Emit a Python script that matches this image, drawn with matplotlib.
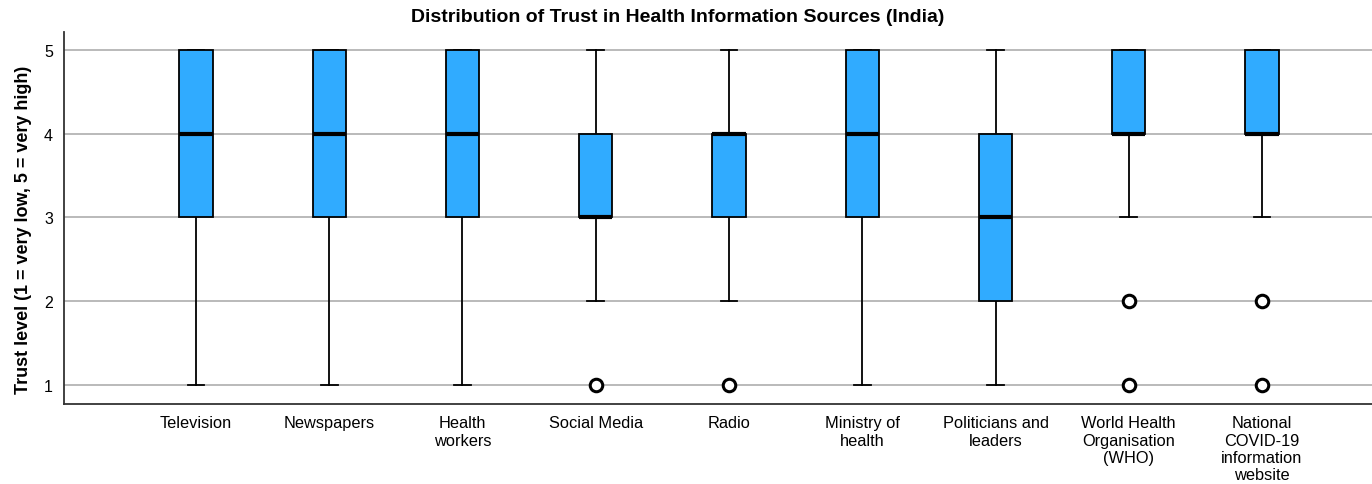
import matplotlib
matplotlib.use("Agg")
import matplotlib.pyplot as plt

plt.rcParams['font.family'] = ['Liberation Sans', 'DejaVu Sans']

categories = ["Television", "Newspapers", "Health\nworkers", "Social Media", "Radio",
              "Ministry of\nhealth", "Politicians and\nleaders",
              "World Health\nOrganisation\n(WHO)", "National\nCOVID-19\ninformation\nwebsite"]
whisker_low = [1, 1, 1, 2, 2, 1, 1, 3, 3]
q1 = [3, 3, 3, 3, 3, 3, 2, 4, 4]
median = [4, 4, 4, 3, 4, 4, 3, 4, 4]
q3 = [5, 5, 5, 4, 4, 5, 4, 5, 5]
whisker_high = [5, 5, 5, 5, 5, 5, 5, 5, 5]
outliers = [[], [], [], [1], [1], [], [], [2, 1], [2, 1]]
yticks = [1, 2, 3, 4, 5]

stats = []
for i, c in enumerate(categories):
    stats.append(dict(label=c, whislo=whisker_low[i], q1=q1[i], med=median[i],
                      q3=q3[i], whishi=whisker_high[i], fliers=outliers[i]))

fig = plt.figure(figsize=(13.72, 4.85), dpi=100)
ax = fig.add_axes([64/1372, 1-405/485, 1-64/1372, (405-33)/485])

positions = list(range(1, len(categories) + 1))
bp = ax.bxp(stats, positions=positions, widths=0.25, patch_artist=True,
            showfliers=True,
            boxprops=dict(facecolor="#30abff", edgecolor="black", linewidth=1.3),
            medianprops=dict(color="black", linewidth=3, solid_capstyle="butt"),
            whiskerprops=dict(color="black", linewidth=1.3),
            capprops=dict(color="black", linewidth=1.3),
            capwidths=0.125,
            flierprops=dict(marker="o", markerfacecolor="white", markeredgecolor="black",
                            markersize=9, markeredgewidth=2.2, linestyle="none"))
for p in bp["boxes"]:
    p.set_zorder(3)
for m in bp["medians"]:
    m.set_zorder(4)

ax.set_xlim(0.01, 9.825)
ax.set_ylim(0.773, 5.215)
ax.set_yticks(yticks)
ax.yaxis.grid(True, color="#b4b4b4", linewidth=1.3)
ax.set_axisbelow(True)
ax.tick_params(axis="y", length=0, labelsize=11.5, pad=8)
ax.tick_params(axis="x", length=0, labelsize=11.8, pad=8)
ax.set_xticks(positions)
ax.set_xticklabels(categories, linespacing=1.2)
for s in ["top", "right"]:
    ax.spines[s].set_visible(False)
for s in ["left", "bottom"]:
    ax.spines[s].set_color("#333333")
    ax.spines[s].set_linewidth(1.3)

ax.set_ylabel("Trust level (1 = very low, 5 = very high)", fontsize=13, fontweight="bold", labelpad=9)
ax.yaxis.set_label_coords(-32/1308, (405-230)/372)
fig.suptitle("Distribution of Trust in Health Information Sources (India)", fontsize=14,
             fontweight="bold", y=1-18/485, va="center", x=(409+947)/2/1372)

fig.savefig("out.png", dpi=100)
